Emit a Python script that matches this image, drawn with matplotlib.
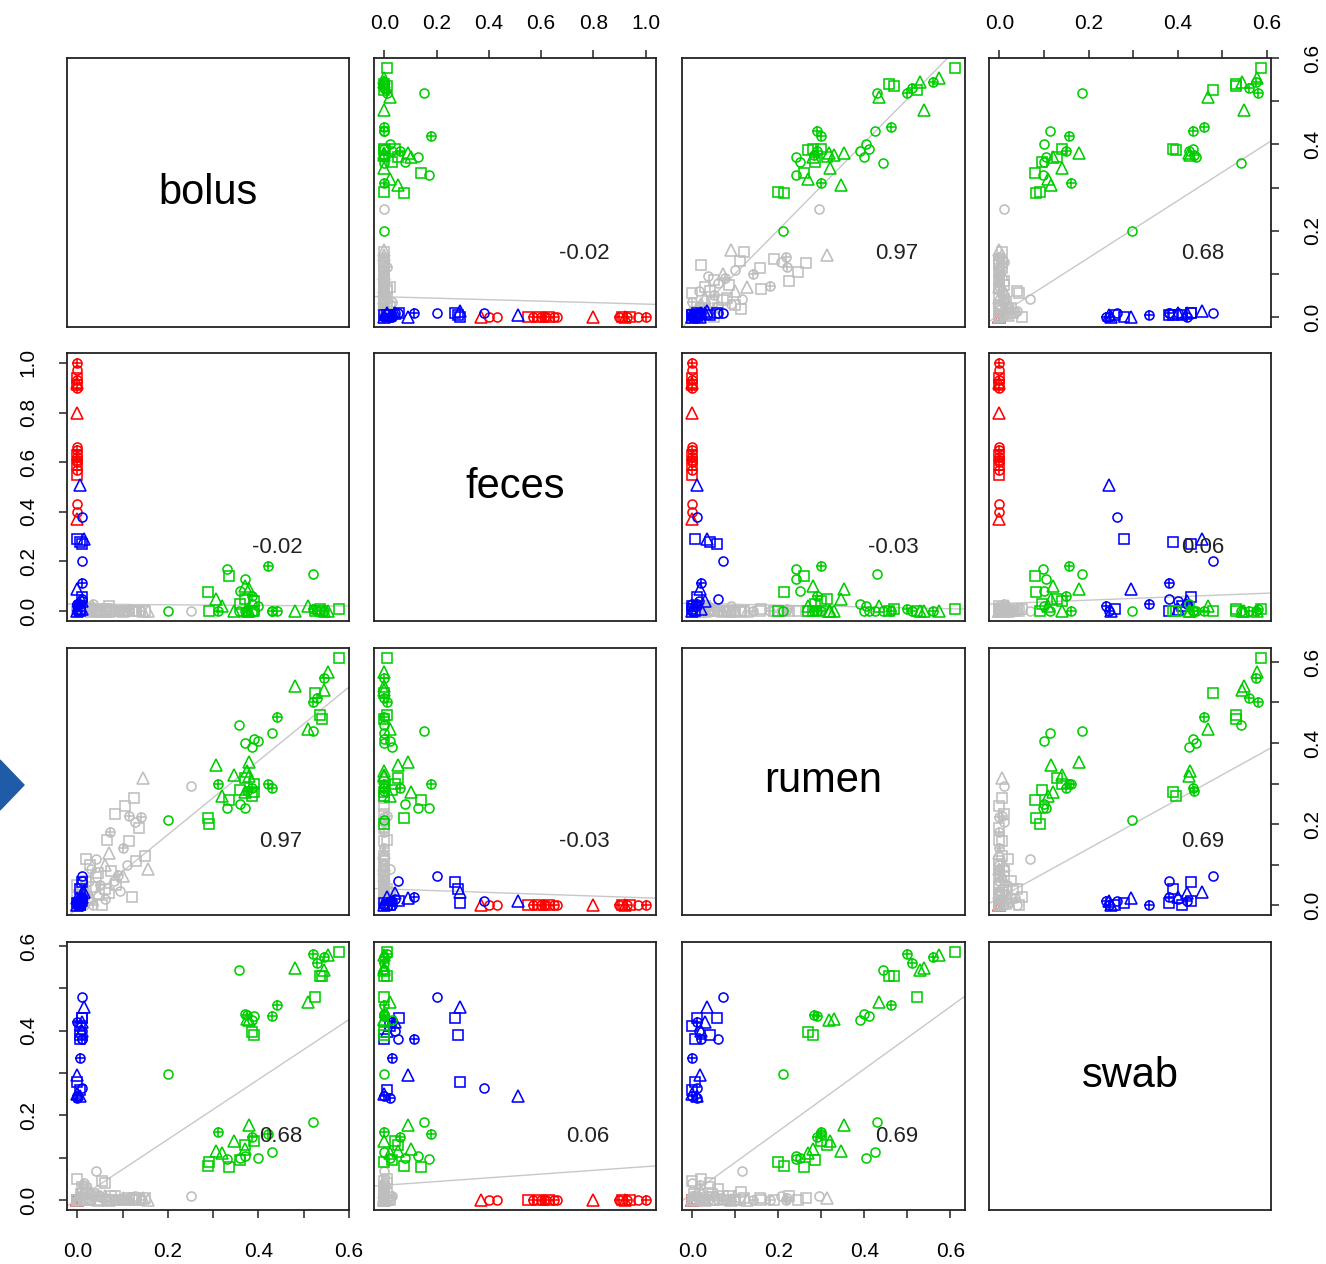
import numpy as np
import matplotlib.pyplot as plt
from matplotlib.patches import Polygon

plt.rcParams['font.family'] = ['Liberation Sans', 'DejaVu Sans']

var_names = ['bolus', 'feces', 'rumen', 'swab']
# correlation labels as printed in the panels
corr_text = {('bolus', 'feces'): '-0.02', ('bolus', 'rumen'): '0.97',
             ('bolus', 'swab'): '0.68', ('feces', 'rumen'): '-0.03',
             ('feces', 'swab'): '0.06', ('rumen', 'swab'): '0.69'}

# grey fit lines: (y variable, x variable) -> value
fit_intercept = {('bolus', 'feces'): 0.047, ('rumen', 'feces'): 0.040,
                 ('swab', 'feces'): 0.035, ('feces', 'bolus'): 0.028,
                 ('feces', 'rumen'): 0.031, ('feces', 'swab'): 0.030,
                 ('bolus', 'rumen'): 0.000, ('rumen', 'bolus'): -0.008,
                 ('bolus', 'swab'): 0.005, ('swab', 'bolus'): 0.002,
                 ('rumen', 'swab'): 0.018, ('swab', 'rumen'): 0.016}
fit_slope = {('bolus', 'feces'): -0.017, ('rumen', 'feces'): -0.022,
             ('swab', 'feces'): 0.044, ('feces', 'bolus'): -0.013,
             ('feces', 'rumen'): -0.036, ('feces', 'swab'): 0.070,
             ('bolus', 'rumen'): 1.01, ('rumen', 'bolus'): 0.91,
             ('bolus', 'swab'): 0.661, ('swab', 'bolus'): 0.707,
             ('rumen', 'swab'): 0.607, ('swab', 'rumen'): 0.734}

# o = circle, ^ = triangle, s = square, p = circle with plus
gray_bolus = [0.144, 0.250, 0.084, 0.115, 0.140, 0.128, 0.073, 0.113, 0.069, 0.018,
              0.042, 0.055, 0.060, 0.100, 0.095, 0.040, 0.030, 0.090, 0.120, 0.000,
              0.010, 0.020, 0.030, 0.050, 0.070, 0.080, 0.010, 0.000, 0.025, 0.035,
              0.045, 0.060, 0.005, 0.015, 0.130, 0.100, 0.065, 0.105, 0.125, 0.005,
              0.000, 0.110, 0.000, 0.000, 0.000, 0.015, 0.025, 0.035, 0.045, 0.085,
              0.005, 0.150, 0.155, 0.020, 0.012, 0.008, 0.060, 0.075, 0.028, 0.135]
gray_feces = [0.00, 0.00, 0.00, 0.01, 0.00, 0.00, 0.00, 0.00, 0.00, 0.00,
              0.00, 0.00, 0.01, 0.00, 0.00, 0.00, 0.02, 0.00, 0.00, 0.00,
              0.00, 0.01, 0.00, 0.00, 0.02, 0.00, 0.00, 0.01, 0.00, 0.03,
              0.00, 0.00, 0.00, 0.00, 0.00, 0.00, 0.01, 0.00, 0.00, 0.02,
              0.00, 0.00, 0.00, 0.00, 0.00, 0.00, 0.01, 0.00, 0.00, 0.00,
              0.02, 0.00, 0.00, 0.00, 0.00, 0.00, 0.00, 0.00, 0.00, 0.00]
gray_rumen = [0.313, 0.295, 0.224, 0.220, 0.218, 0.205, 0.180, 0.157, 0.128, 0.113,
              0.115, 0.000, 0.040, 0.072, 0.035, 0.070, 0.090, 0.075, 0.020, 0.000,
              0.010, 0.030, 0.020, 0.050, 0.030, 0.060, 0.040, 0.020, 0.060, 0.000,
              0.080, 0.100, 0.005, 0.000, 0.110, 0.140, 0.160, 0.245, 0.265, 0.010,
              0.050, 0.100, 0.000, 0.000, 0.000, 0.025, 0.015, 0.045, 0.030, 0.050,
              0.035, 0.120, 0.090, 0.060, 0.018, 0.003, 0.015, 0.085, 0.100, 0.190]
gray_swab = [0.005, 0.010, 0.010, 0.005, 0.000, 0.010, 0.000, 0.005, 0.000, 0.020,
             0.068, 0.045, 0.040, 0.005, 0.000, 0.010, 0.000, 0.000, 0.000, 0.000,
             0.010, 0.000, 0.020, 0.010, 0.000, 0.000, 0.030, 0.050, 0.000, 0.010,
             0.000, 0.010, 0.000, 0.040, 0.000, 0.000, 0.000, 0.000, 0.005, 0.020,
             0.000, 0.000, 0.000, 0.000, 0.000, 0.005, 0.000, 0.015, 0.000, 0.000,
             0.010, 0.005, 0.000, 0.025, 0.035, 0.015, 0.005, 0.010, 0.000, 0.000]
gray_shape = ("^osppops^s" + "oss^osopss" + "os^psossop" + "s^sospsss^" + "so"
              + "o^psos^sos^spsosss")

green_bolus = [0.577, 0.553, 0.480, 0.530, 0.525, 0.535, 0.545, 0.510, 0.440, 0.356,
               0.390, 0.385, 0.430, 0.375, 0.390, 0.370, 0.540, 0.545, 0.520, 0.380,
               0.375, 0.386, 0.200, 0.520, 0.430, 0.400, 0.380, 0.306, 0.310, 0.420,
               0.330, 0.334, 0.288, 0.370, 0.360, 0.370, 0.390, 0.385, 0.320, 0.290,
               0.370, 0.360, 0.345]
green_feces = [0.010, 0.000, 0.000, 0.000, 0.000, 0.010, 0.000, 0.020, 0.000, 0.000,
               0.000, 0.030, 0.000, 0.000, 0.000, 0.000, 0.000, 0.000, 0.010, 0.000,
               0.000, 0.000, 0.000, 0.150, 0.000, 0.020, 0.090, 0.050, 0.000, 0.180,
               0.170, 0.140, 0.076, 0.050, 0.080, 0.100, 0.040, 0.060, 0.020, 0.000,
               0.130, 0.030, 0.000]
green_rumen = [0.610, 0.574, 0.540, 0.510, 0.523, 0.470, 0.560, 0.435, 0.463, 0.444,
               0.410, 0.390, 0.290, 0.330, 0.280, 0.400, 0.458, 0.530, 0.500, 0.318,
               0.282, 0.270, 0.210, 0.430, 0.424, 0.405, 0.353, 0.345, 0.300, 0.300,
               0.240, 0.260, 0.214, 0.313, 0.250, 0.280, 0.300, 0.290, 0.270, 0.200,
               0.240, 0.285, 0.320]
green_swab = [0.586, 0.579, 0.548, 0.560, 0.480, 0.530, 0.575, 0.467, 0.460, 0.543,
              0.435, 0.426, 0.435, 0.428, 0.390, 0.440, 0.530, 0.544, 0.580, 0.425,
              0.437, 0.396, 0.298, 0.185, 0.114, 0.100, 0.178, 0.115, 0.160, 0.157,
              0.098, 0.079, 0.081, 0.130, 0.100, 0.120, 0.140, 0.150, 0.110, 0.090,
              0.105, 0.095, 0.140]
green_shape = "s^^pssp^po" + "oop^sos^p^" + "psoooo^^pp" + "ossso^sp^s" + "os^"

blue_bolus = [0.010, 0.005, 0.010, 0.000, 0.010, 0.005, 0.015, 0.010, 0.000, 0.010, 0.005,
              0.000, 0.010, 0.005, 0.000, 0.010, 0.005, 0.010, 0.000, 0.005, 0.000, 0.010]
blue_feces = [0.200, 0.510, 0.380, 0.290, 0.270, 0.280, 0.290, 0.050, 0.090, 0.115, 0.030,
              0.000, 0.055, 0.020, 0.030, 0.010, 0.000, 0.040, 0.000, 0.010, 0.020, 0.040]
blue_rumen = [0.072, 0.010, 0.010, 0.005, 0.056, 0.040, 0.033, 0.060, 0.017, 0.020, 0.000,
              0.000, 0.010, 0.000, 0.010, 0.020, 0.005, 0.015, 0.000, 0.000, 0.010, 0.030]
blue_swab = [0.480, 0.246, 0.264, 0.280, 0.430, 0.390, 0.455, 0.380, 0.295, 0.380, 0.335,
             0.245, 0.430, 0.410, 0.420, 0.400, 0.380, 0.400, 0.250, 0.260, 0.240, 0.420]
blue_shape = "o^osss^o^pppssp^so^sp^"

red_bolus = [0.0] * 20
red_feces = [0.37, 0.40, 0.43, 0.55, 0.57, 0.59, 0.60, 0.61, 0.62, 0.63,
             0.65, 0.66, 0.80, 0.90, 0.91, 0.92, 0.93, 0.94, 0.97, 1.00]
red_rumen = [0.0] * 20
red_swab = [0.0] * 20
red_shape = "^oospspopspo^ps^psop"

# drawing order: red first so the grey cloud at the origin sits on top
groups = [
    ('#FF0000', [red_bolus, red_feces, red_rumen, red_swab], red_shape),
    ('#BEBEBE', [gray_bolus, gray_feces, gray_rumen, gray_swab], gray_shape),
    ('#0000FF', [blue_bolus, blue_feces, blue_rumen, blue_swab], blue_shape),
    ('#00CD00', [green_bolus, green_feces, green_rumen, green_swab], green_shape),
]

tick_step = {'bolus': 0.1, 'feces': 0.2, 'rumen': 0.1, 'swab': 0.1}

W, H = 1326, 1264
col_px = [(67, 349), (374, 656), (682, 965), (989, 1271)]
row_px = [(58, 327), (353, 621), (648, 915), (942, 1210)]

fig = plt.figure(figsize=(W / 100, H / 100), dpi=100)

all_vals = []
for k in range(4):
    all_vals.append(np.concatenate([np.array(g[1][k], dtype=float) for g in groups]))
limits = []
for v in all_vals:
    r = v.max() - v.min()
    limits.append((v.min() - 0.04 * r, v.max() + 0.04 * r))

marker_size = {'o': 6.5, '^': 8.5, 's': 7.0, 'p': 6.5}


def draw_points(ax, xs, ys, shapes, color):
    xs = np.array(xs, dtype=float)
    ys = np.array(ys, dtype=float)
    sh = np.array(list(shapes))
    for m in 'os^p':
        sel = sh == m
        if not sel.any():
            continue
        mk = 'o' if m == 'p' else m
        ax.plot(xs[sel], ys[sel], ls='none', marker=mk, ms=marker_size[m],
                mfc='none', mec=color, mew=1.15)
        if m == 'p':
            ax.plot(xs[sel], ys[sel], ls='none', marker='+', ms=6.5,
                    mec=color, mew=1.15)


def set_ticks(axis, name, lim):
    step = tick_step[name]
    ticks = np.arange(0, lim[1] + 1e-9, step)
    labels = []
    for t in ticks:
        if abs(round(t / 0.2) * 0.2 - t) < 1e-6:
            labels.append(f'{t:.1f}')
        else:
            labels.append('')
    axis.set_ticks(ticks)
    axis.set_ticklabels(labels)


for i in range(4):
    for j in range(4):
        x0, x1 = col_px[j]
        y0, y1 = row_px[i]
        ax = fig.add_axes([x0 / W, 1 - y1 / H, (x1 - x0) / W, (y1 - y0) / H])
        for s in ax.spines.values():
            s.set_linewidth(1.3)
            s.set_color('#222222')
        ax.set_xlim(limits[j])
        ax.set_ylim(limits[i])
        ax.set_xticks([])
        ax.set_yticks([])
        ax.tick_params(length=6, width=1.1, labelsize=15, pad=17, color='#222222')

        if i == j:
            ax.text(0.5, 0.5, var_names[i], transform=ax.transAxes,
                    ha='center', va='center', fontsize=30)
        else:
            key_fit = (var_names[i], var_names[j])
            lx = np.array(limits[j])
            ax.plot(lx, fit_intercept[key_fit] + fit_slope[key_fit] * lx,
                    color='#C8C8C8', lw=1.0, zorder=1)
            for color, cols, shapes in groups:
                draw_points(ax, cols[j], cols[i], shapes, color)
            key = tuple(sorted([var_names[i], var_names[j]],
                               key=var_names.index))
            ax.text(0.835, 0.275, corr_text[key], transform=ax.transAxes,
                    ha='right', va='center', fontsize=16, color='#222222',
                    zorder=5)

        # outer axes like R pairs(): alternate sides
        if i == 0 and j % 2 == 1:
            set_ticks(ax.xaxis, var_names[j], limits[j])
            ax.tick_params(axis='x', top=True, bottom=False,
                           labeltop=True, labelbottom=False, pad=12)
        if i == 3 and j % 2 == 0:
            set_ticks(ax.xaxis, var_names[j], limits[j])
        if j == 0 and i % 2 == 1:
            set_ticks(ax.yaxis, var_names[i], limits[i])
            ax.tick_params(axis='y', labelrotation=90, pad=15)
            for lab in ax.get_yticklabels():
                lab.set_va('center')
        if j == 3 and i % 2 == 0:
            set_ticks(ax.yaxis, var_names[i], limits[i])
            ax.tick_params(axis='y', left=False, right=True, labelleft=False,
                           labelright=True, labelrotation=90)
            for lab in ax.get_yticklabels():
                lab.set_va('center')

# partial navigation arrow at the left edge
arrow = Polygon([(0 / W, 1 - 760 / H), (24 / W, 1 - 785 / H), (0 / W, 1 - 810 / H)],
                closed=True, transform=fig.transFigure, color='#1F5BA6')
fig.patches.append(arrow)

fig.savefig('out.png', dpi=100)
